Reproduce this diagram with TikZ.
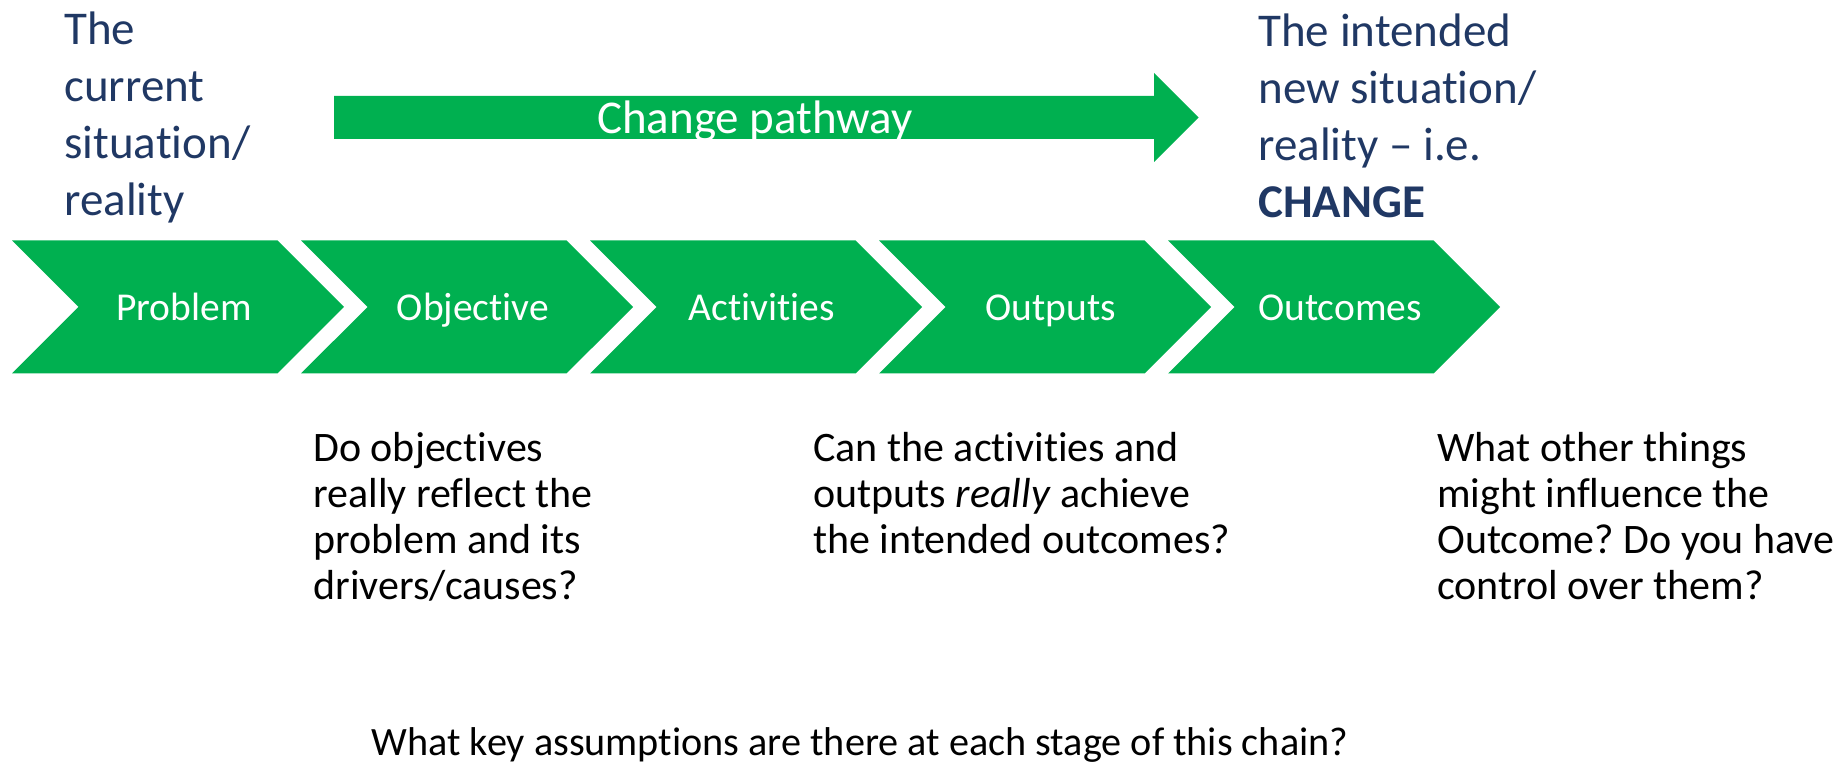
\documentclass[tikz,border=0pt]{standalone}
\usepackage{fontspec}
\setmainfont{Carlito}[Ligatures={TeX,NoCommon}]
\usetikzlibrary{shapes.symbols, positioning}
\definecolor{chevgreen}{HTML}{00B050}
\definecolor{navytext}{HTML}{203864}
\frenchspacing

\begin{document}
\begin{tikzpicture}[x=0.5pt, y=-0.5pt, node distance=144.5pt]
  % Define styles
  \tikzstyle{chevron} = [signal, signal from=west, signal to=east, signal pointer angle=90, minimum width=166pt, minimum height=66.5pt, inner sep=0pt, text height=15.5pt, text depth=2pt, execute at begin node=\hspace*{6pt}, fill=chevgreen, text=white, font=\fontsize{19.75}{24}\selectfont]
  \tikzstyle{situation} = [align=left, anchor=base west, inner sep=0pt, text=navytext, font=\fontsize{23.5}{28.5}\selectfont]
  \tikzstyle{question} = [align=left, anchor=base west, inner sep=0pt, text=black, font=\fontsize{21}{23}\selectfont]

  \useasboundingbox (0,0) rectangle (1847,763);

  % Place nodes
  \node [chevron] (problem) at (178,307) {Problem};
  \node [chevron, right of=problem] (objective) {Objective};
  \node [chevron, right of=objective] (activities) {Activities};
  \node [chevron, right of=activities] (outputs) {Outputs};
  \node [chevron, right of=outputs] (outcomes) {Outcomes};

  % base anchor sits on the last line
  \node [situation] (current) at (64,216) {The\\current\\situation/\\reality};
  \node [situation] (intended) at (1258,218) {The intended\\new situation/\\reality -- i.e.\\\textbf{CHANGE}};

  \node [question] (objq) at (313,600) {Do objectives\\really reflect the\\problem and its\\drivers/causes?};
  \node [question] (outq) at (813,554) {Can the activities and\\outputs \textit{really} achieve\\the intended outcomes?};
  \node [question] (influq) at (1437,600) {What other things\\might influence the\\Outcome? Do you have\\control over them?};
  \node [question, anchor=base, font=\fontsize{20.1}{23}\selectfont] (assumq) at (860,755) {What key assumptions are there at each stage of this chain?};

  % Draw the change arrow
  \fill [chevgreen] (334,96) -- (1154,96) -- (1154,73) -- (1198.6,117.5) -- (1154,162) -- (1154,139) -- (334,139) -- cycle;
  \node [anchor=base, inner sep=0pt, text=white, font=\fontsize{23.5}{28.5}\selectfont] (pathway) at (755,134) {Change pathway};

\end{tikzpicture}
\end{document}
